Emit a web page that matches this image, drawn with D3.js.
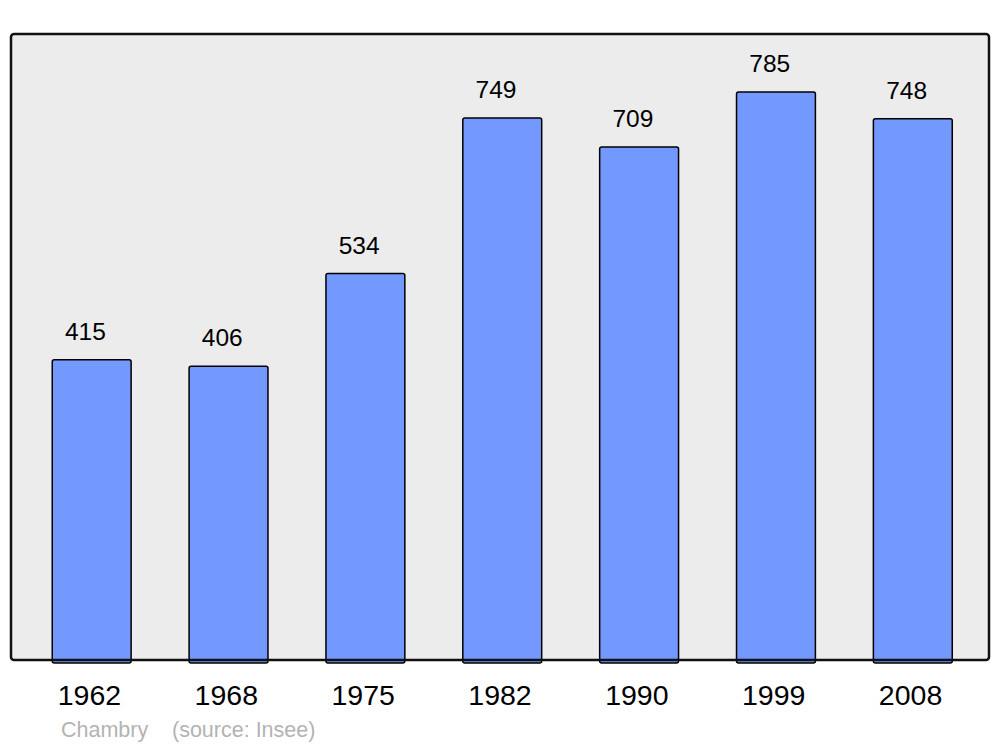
<!DOCTYPE html>
<html>
<head>
<meta charset="utf-8">
<script src="https://cdn.jsdelivr.net/npm/d3@7"></script>
<style>
  html, body { margin: 0; padding: 0; background: #ffffff; }
  svg { display: block; }
  text { font-family: "Liberation Sans", Arial, sans-serif; }
</style>
</head>
<body>
<script>
const years = ["1962", "1968", "1975", "1982", "1990", "1999", "2008"];
const population = [415, 406, 534, 749, 709, 785, 748];
const placeName = "Chambry";
const sourceText = "(source: Insee)";

const W = 1000, H = 747;
const plot = { left: 11, right: 989, top: 34, bottom: 660 };

const svg = d3.select("body").append("svg")
  .attr("width", W).attr("height", H);

svg.append("rect")
  .attr("x", plot.left).attr("y", plot.top)
  .attr("width", plot.right - plot.left).attr("height", plot.bottom - plot.top)
  .attr("rx", 3).attr("ry", 3)
  .attr("fill", "#ececec");

const x = d3.scaleBand()
  .domain(years)
  .range([23, 981])
  .paddingInner(0.42)
  .paddingOuter(0.21);

const y = d3.scaleLinear()
  .domain([0, 865])
  .range([plot.bottom, plot.top]);

const data = years.map((yr, i) => ({ year: yr, value: population[i] }));

svg.append("g").selectAll("rect")
  .data(data)
  .join("rect")
  .attr("x", d => x(d.year) + 0.5)
  .attr("y", d => y(d.value))
  .attr("width", x.bandwidth() - 0.5)
  .attr("height", d => plot.bottom - y(d.value) + 3)
  .attr("rx", 2).attr("ry", 2)
  .attr("fill", "#7399ff")
  .attr("stroke", "#000")
  .attr("stroke-width", 1.5);

svg.append("g").selectAll("text")
  .data(data)
  .join("text")
  .attr("x", d => x(d.year) + x.bandwidth() / 2 - 6)
  .attr("y", d => y(d.value) - 20)
  .attr("text-anchor", "middle")
  .attr("font-size", 24.5)
  .attr("fill", "#000")
  .text(d => d.value);

// frame on top
svg.append("rect")
  .attr("x", plot.left).attr("y", plot.top)
  .attr("width", plot.right - plot.left).attr("height", plot.bottom - plot.top)
  .attr("rx", 3).attr("ry", 3)
  .attr("fill", "none")
  .attr("stroke", "#111")
  .attr("stroke-width", 2.5);

// x axis labels
const xAxis = d3.axisBottom(x).tickSize(0).tickPadding(0);
const gx = svg.append("g")
  .attr("transform", `translate(0,${plot.bottom})`)
  .call(xAxis);
gx.select(".domain").remove();
gx.selectAll("text")
  .attr("dy", null)
  .attr("x", -2)
  .attr("y", 45)
  .attr("font-size", 28.5)
  .attr("font-family", "Liberation Sans, Arial, sans-serif")
  .attr("fill", "#000");

svg.append("text")
  .attr("x", 61).attr("y", 737)
  .attr("font-size", 21.5)
  .attr("fill", "#b3b3b3")
  .text(placeName);
svg.append("text")
  .attr("x", 172).attr("y", 737)
  .attr("font-size", 21.5)
  .attr("fill", "#b3b3b3")
  .text(sourceText);
</script>
</body>
</html>
